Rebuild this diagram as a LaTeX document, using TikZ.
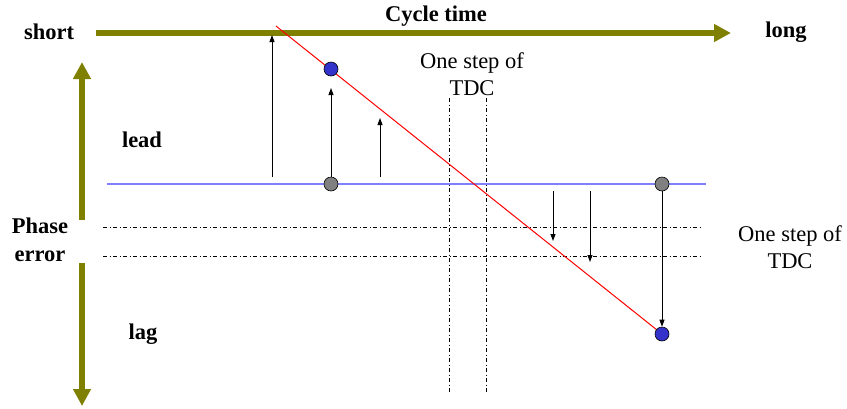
\documentclass[tikz,border=0pt]{standalone}
\usepackage{fontspec}
\setmainfont{Liberation Serif}
\usetikzlibrary{arrows.meta}
\definecolor{olivebar}{HTML}{808000}
\definecolor{reflineblue}{HTML}{8080FF}
\definecolor{dotblue}{HTML}{3333CC}
\definecolor{dotgrey}{HTML}{808080}
\tikzset{
  lbl/.style={font=\fontsize{22.5pt}{27pt}\selectfont\bfseries, inner sep=0pt},
  note/.style={font=\fontsize{22.5pt}{27pt}\selectfont, align=center, inner sep=0pt},
  axis/.style={olivebar, line width=6pt, -{Triangle[length=17pt,width=17pt]}},
  stepline/.style={black, line width=0.8pt, dash pattern=on 4pt off 2.5pt on 1pt off 2.5pt},
  corrarrow/.style={black, line width=0.9pt, -{Triangle[length=7pt,width=5pt]}},
  ballblue/.style={circle, draw=black, line width=0.6pt, fill=dotblue, minimum size=14pt, inner sep=0pt},
  ballgrey/.style={circle, draw=black, line width=0.6pt, fill=dotgrey, minimum size=14pt, inner sep=0pt},
}
\begin{document}
\begin{tikzpicture}[x=1pt, y=-1pt]
\useasboundingbox (0,0) rectangle (847,408);

% labels
\node[lbl] (short) at (49,32) {short};
\node[lbl] (long) at (786,32) {long};
\node[lbl] (cycle) at (436,16) {Cycle time};
\node[lbl, align=center, font=\fontsize{22.5pt}{28pt}\selectfont\bfseries] (phase) at (40,240) {Phase\\error};
\node[lbl] (lead) at (142,140) {lead};
\node[lbl] (lag) at (143,334) {lag};
\node[note] (tdctop) at (472,74) {One step of\\TDC};
\node[note] (tdcright) at (790,247) {One step of\\TDC};

% axes
\coordinate (hx0) at (96,33);
\coordinate (hx1) at (731,33);
\draw[axis] (hx0) -- (hx1);
\coordinate (vup0) at (82,220);
\coordinate (vup1) at (82,62);
\coordinate (vdn0) at (82,263);
\coordinate (vdn1) at (82,406);
\draw[axis] (vup0) -- (vup1);
\draw[axis] (vdn0) -- (vdn1);

% one-step grid
\coordinate (ha0) at (103,227); \coordinate (ha1) at (702,227);
\coordinate (hb0) at (103,256); \coordinate (hb1) at (702,256);
\coordinate (va0) at (449,98);  \coordinate (va1) at (449,394);
\coordinate (vb0) at (486,98);  \coordinate (vb1) at (486,394);
\draw[stepline] (ha0) -- (ha1);
\draw[stepline] (hb0) -- (hb1);
\draw[stepline] (va0) -- (va1);
\draw[stepline] (vb0) -- (vb1);

% zero phase line
\coordinate (z0) at (107,184);
\coordinate (z1) at (706,184);
\draw[reflineblue, line width=1.3pt] (z0) -- (z1);

% error trend
\coordinate (r0) at (276,26);
\coordinate (rend) at (662,334);
\draw[red, line width=1pt] (r0) -- (rend);

% sampled points
\node[ballgrey] (g1) at (331,184) {};
\node[ballgrey] (g2) at (662,184) {};
\node[ballblue] (b1) at (331,69) {};
\node[ballblue] (b2) at (rend) {};

% correction steps
\coordinate (s1a) at (272,177); \coordinate (s1b) at (272,35);
\coordinate (s2b) at (331,88);
\coordinate (s3a) at (380,177); \coordinate (s3b) at (380,118);
\coordinate (s4a) at (553,191); \coordinate (s4b) at (553,241);
\coordinate (s5a) at (590,191); \coordinate (s5b) at (590,262);
\draw[corrarrow] (s1a) -- (s1b);
\draw[corrarrow] (g1.north) -- (s2b);
\draw[corrarrow] (s3a) -- (s3b);
\draw[corrarrow] (s4a) -- (s4b);
\draw[corrarrow] (s5a) -- (s5b);
\draw[corrarrow] (g2.south) -- (b2.north);
\end{tikzpicture}
\end{document}
